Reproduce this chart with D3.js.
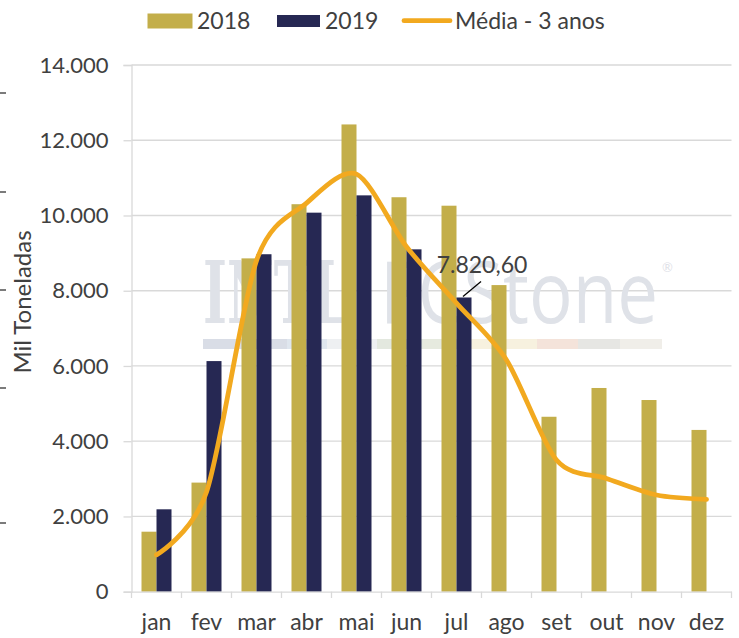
<!DOCTYPE html>
<html>
<head>
<meta charset="utf-8">
<script src="https://cdn.jsdelivr.net/npm/d3@7"></script>
<style>
  body { margin: 0; background: #fff; }
  text { font-family: Lato, "Open Sans", sans-serif; fill: #404040; }
</style>
</head>
<body>
<div id="chart"></div>
<script>
// data (mil toneladas)
var months = ["jan", "fev", "mar", "abr", "mai", "jun", "jul", "ago", "set", "out", "nov", "dez"];
var series = ["2018", "2019"];
var values2018 = [1595, 2900, 8860, 10300, 12420, 10485, 10260, 8150, 4650, 5415, 5095, 4300];
var values2019 = [2190, 6130, 8970, 10075, 10535, 9100, 7820.6, null, null, null, null, null];
var media3 = [980, 2650, 8800, 10330, 11100, 9170, 7670, 6160, 3500, 3010, 2570, 2455];
var yTicks = [0, 2000, 4000, 6000, 8000, 10000, 12000, 14000];

var width = 739;
var height = 638;

var colors = { "2018": "#c3ae4a", "2019": "#262853", media: "#f2a91f" };

var svg = d3.select("#chart")
  .append("svg")
  .attr("width", width)
  .attr("height", height);

var x0 = d3.scaleBand().domain(months).range([131.5, 731.5]).paddingInner(0).paddingOuter(0);
var x1 = d3.scaleBand().domain(series).range([x0.bandwidth() * 0.2, x0.bandwidth() * 0.8]);
var y = d3.scaleLinear().domain([0, 14000]).range([591.7, 65]);

var fmt = d3.formatLocale({ decimal: ",", thousands: ".", grouping: [3], currency: ["R$", ""] });
var fmtInt = fmt.format(",.0f");
var fmtDec = fmt.format(",.2f");

// stray tick marks on the left edge of the picture
[93, 192, 290, 388, 523].forEach(function(v) {
  svg.append("line")
    .attr("x1", 0).attr("x2", 6)
    .attr("y1", v).attr("y2", v)
    .style("stroke", "#333").style("stroke-width", 1.3);
});

// gridlines
svg.append("g")
  .selectAll("line")
  .data(yTicks.filter(d => d > 0))
  .enter().append("line")
  .attr("x1", 131.5).attr("x2", 731.5)
  .attr("y1", d => y(d)).attr("y2", d => y(d))
  .style("stroke", "#d9d9d9").style("stroke-width", 1.3);

// watermark
var wm = svg.append("g").attr("class", "watermark");
wm.append("text")
  .attr("x", 203).attr("y", 323)
  .attr("textLength", 145).attr("lengthAdjust", "spacingAndGlyphs")
  .style("font-family", "'DejaVu Serif', serif").style("font-weight", "bold")
  .style("font-size", "86px").style("fill", "#dfe2e8")
  .text("INTL");
wm.append("text")
  .attr("x", 380).attr("y", 323)
  .attr("textLength", 278).attr("lengthAdjust", "spacingAndGlyphs")
  .style("font-family", "'Open Sans', sans-serif")
  .style("font-size", "86px").style("fill", "#dfe2e8")
  .text("FCStone");
wm.append("text")
  .attr("x", 662).attr("y", 272)
  .style("font-size", "13px").style("fill", "#dfe2e8")
  .text("®");
var stripe = [
  [203, 287, "#d9dde6"], [287, 327, "#dfe6ee"], [327, 377, "#eef0f2"],
  [377, 423, "#e3e8df"], [423, 467, "#e6eadf"], [467, 537, "#f7f1df"],
  [537, 578, "#f4e3da"], [578, 620, "#e6e6e3"], [620, 662, "#f0eee9"]
];
wm.selectAll("rect")
  .data(stripe)
  .enter().append("rect")
  .attr("x", d => d[0]).attr("width", d => d[1] - d[0])
  .attr("y", 339).attr("height", 10)
  .style("fill", d => d[2]);

// bars
var groups = svg.selectAll(".month")
  .data(months)
  .enter().append("g")
  .attr("class", "month")
  .attr("transform", d => `translate(${x0(d)},0)`);

groups.append("rect")
  .attr("class", "bar b2018")
  .attr("x", x1("2018"))
  .attr("width", x1.bandwidth())
  .attr("y", (d, i) => y(values2018[i]))
  .attr("height", (d, i) => y(0) - y(values2018[i]))
  .style("fill", colors["2018"]);

groups.filter((d, i) => values2019[i] != null)
  .append("rect")
  .attr("class", "bar b2019")
  .attr("x", x1("2019"))
  .attr("width", x1.bandwidth())
  .attr("y", d => y(values2019[months.indexOf(d)]))
  .attr("height", d => y(0) - y(values2019[months.indexOf(d)]))
  .style("fill", colors["2019"]);

// y axis
var yAxis = d3.axisLeft(y).tickValues(yTicks).tickSize(8).tickPadding(15).tickFormat(fmtInt);
var gy = svg.append("g")
  .attr("transform", "translate(131.5,0)")
  .call(yAxis);
gy.select(".domain").style("stroke", "#d9d9d9").style("stroke-width", 1.3);
gy.selectAll(".tick line").style("stroke", "#d9d9d9").style("stroke-width", 1.3);
gy.selectAll(".tick text").style("font-size", "22px").style("fill", "#404040")
  .style("font-family", "Lato, sans-serif");

// x axis
var xAxis = d3.axisBottom(x0).tickSize(0).tickPadding(22);
var gx = svg.append("g")
  .attr("transform", "translate(0,591.7)")
  .call(xAxis);
gx.select(".domain").style("stroke", "#d9d9d9").style("stroke-width", 1.3);
gx.selectAll(".tick text").style("font-size", "23px").style("fill", "#404040")
  .style("font-family", "Lato, sans-serif");
// tick marks between categories
svg.append("g")
  .selectAll("line")
  .data(months.concat(["end"]))
  .enter().append("line")
  .attr("x1", (d, i) => i < months.length ? x0(d) : x0.range()[1])
  .attr("x2", (d, i) => i < months.length ? x0(d) : x0.range()[1])
  .attr("y1", 591.7).attr("y2", 598)
  .style("stroke", "#d9d9d9").style("stroke-width", 1.3);

// average line
var line = d3.line()
  .x((d, i) => x0(months[i]) + x0.bandwidth() / 2)
  .y(d => y(d))
  .curve(d3.curveCardinal.tension(0.15));
svg.append("path")
  .datum(media3)
  .attr("d", line)
  .style("fill", "none")
  .style("stroke", colors.media)
  .style("stroke-width", 4.8)
  .style("stroke-linecap", "round")
  .style("stroke-linejoin", "round");

// data label on jul 2019
var julX = x0("jul") + x1("2019") + x1.bandwidth() / 2;
var julY = y(values2019[6]);
svg.append("line")
  .attr("x1", julX - 1).attr("y1", julY - 1)
  .attr("x2", julX + 17).attr("y2", julY - 16)
  .style("stroke", "#000").style("stroke-width", 1.3);
svg.append("text")
  .attr("x", julX + 18).attr("y", julY - 24)
  .attr("text-anchor", "middle")
  .style("font-size", "23px")
  .text(fmtDec(values2019[6]));

// y axis title
svg.append("text")
  .attr("text-anchor", "middle")
  .attr("transform", "translate(31,302)rotate(-90)")
  .style("font-size", "24px")
  .text("Mil Toneladas");

// legend
var legend = svg.append("g").attr("class", "legend");
legend.append("rect")
  .attr("x", 147.5).attr("y", 13.5).attr("width", 45).attr("height", 15)
  .style("fill", colors["2018"]);
legend.append("text")
  .attr("x", 197).attr("y", 29)
  .style("font-size", "23px")
  .text("2018");
legend.append("rect")
  .attr("x", 277).attr("y", 15).attr("width", 43).attr("height", 12)
  .style("fill", colors["2019"]);
legend.append("text")
  .attr("x", 325).attr("y", 29)
  .style("font-size", "23px")
  .text("2019");
legend.append("line")
  .attr("x1", 404).attr("x2", 450).attr("y1", 20.7).attr("y2", 20.7)
  .style("stroke", colors.media).style("stroke-width", 4.8)
  .style("stroke-linecap", "round");
legend.append("text")
  .attr("x", 455).attr("y", 29)
  .style("font-size", "23px")
  .text("Média - 3 anos");
</script>
</body>
</html>
